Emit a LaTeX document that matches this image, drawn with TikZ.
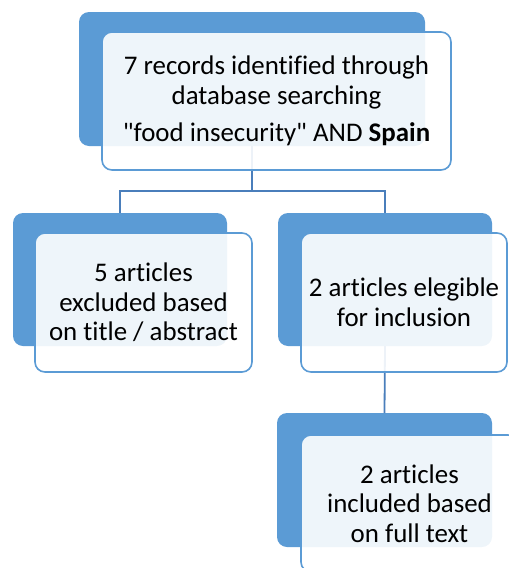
\documentclass[tikz,border=0pt]{standalone}
\usepackage{fontspec}
\setmainfont{Carlito}[Ligatures={NoCommon,TeXOff}]
\definecolor{boxblue}{HTML}{5B9BD5}
\definecolor{linkblue}{HTML}{4A7EBB}
\begin{document}
\begin{tikzpicture}[x=1pt,y=-1pt,
  backbox/.style={fill=boxblue, rounded corners=10pt, inner sep=0pt, outer sep=0pt},
  frontbox/.style={draw=boxblue, line width=1.6pt, fill=white, fill opacity=0.9,
    text opacity=1, rounded corners=10pt, inner sep=0pt, outer sep=0pt,
    align=center, font=\fontsize{26.9}{29.5}\selectfont},
  link/.style={draw=linkblue, line width=1.8pt}]
\useasboundingbox (0,0) rectangle (509,568);
\clip (0,0) rectangle (509,568);

% coloured back plates
\node[backbox, minimum width=346pt, minimum height=134pt] (b0) at (252,79) {};
\node[backbox, minimum width=214pt, minimum height=133pt] (b1) at (120,279.5) {};
\node[backbox, minimum width=214pt, minimum height=133pt] (b2) at (385,279.5) {};
\node[backbox, minimum width=215pt, minimum height=134pt] (b3) at (384.5,480) {};

% connectors
\draw[link] (b0.south) -- ++(0,45) -| (b1.north);
\draw[link] (b0.south) ++(0,45) -| (b2.north);
\draw[link] (b2.south) -- (b3.north);

% text cards
\node[frontbox, minimum width=349pt, minimum height=138pt] (f0) at (276.5,101)
  {7 records identified through\\database searching\\[8pt]"food insecurity" AND \textbf{Spain}};
\node[frontbox, minimum width=217pt, minimum height=139pt] (f1) at (143.5,302.5)
  {5 articles\\excluded based\\on title / abstract};
\node[frontbox, minimum width=206pt, minimum height=139pt] (f2) at (404,302.5)
  {2 articles elegible\\for inclusion};
\node[frontbox, minimum width=217pt, minimum height=137pt] (f3) at (409.5,503.5)
  {2 articles\\included based\\on full text};
\end{tikzpicture}
\end{document}
